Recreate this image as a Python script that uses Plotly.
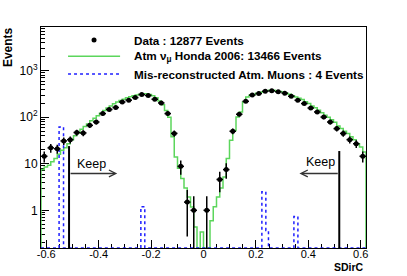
import numpy as np
import plotly.graph_objects as go

X_MIN, X_MAX = -0.62, 0.62
Y_LOG_MIN, Y_LOG_MAX = -0.81, 3.94
FLOOR = 10 ** Y_LOG_MIN

# data histogram, 50 bins over [X_MIN, X_MAX]
data_counts = [
    14.5, 22, 21, 31, 33, 47, 46, 67, 79, 120,
    147, 162, 213, 233, 265, 307, 294, 244, 203, 120,
    45, 8.8, 1.5, 1, 0, 1, 0, 4.6, 7.5, 50,
    116, 220, 300, 323, 363, 370, 352, 330, 283, 232,
    197, 158, 130, 101, 79, 57, 45, 33, 27, 14.5,
]

# atm. nu_mu MC, 100 bins over [X_MIN, X_MAX]
mc_counts = [
    7.5, 8.5, 9.3, 11, 13, 16, 19.5, 22, 27, 33,
    40, 46, 55, 63, 72, 84, 95, 108, 122, 140,
    158, 175, 195, 212, 228, 245, 262, 276, 290, 300,
    312, 320, 322, 310, 290, 262, 225, 185, 140, 100,
    38, 14, 8, 4.8, 3, 1.93, 1.18, 0.44, 0, 0.34,
    0, 0, 0.6, 1.2, 1.93, 3, 5.2, 13, 32, 52,
    101, 130, 213, 274, 297, 310, 330, 345, 355, 370,
    380, 380, 372, 360, 350, 330, 313, 290, 274, 255,
    240, 215, 197, 175, 160, 141, 125, 110, 100, 88,
    78, 65, 57, 50, 45, 38, 33, 27, 23, 18,
]

# mis-reconstructed muons (irregular bins)
mu_lo = [-0.551, -0.239, 0.2227, 0.2379, 0.3449]
mu_hi = [-0.534, -0.224, 0.2379, 0.2479, 0.3602]
mu_val = [62, 1.2, 2.5, 0.37, 0.74]

cut_x = [-0.513, 0.518]
cut_top = [24, 18.8]
arrow_tip = [-0.329, 0.366]
arrow_y = 6.2
keep_x = [-0.428, 0.447]
keep_y = [10.0, 10.7]

x_ticks = [-0.6, -0.4, -0.2, 0, 0.2, 0.4, 0.6]
x_ticktext = ["-0.6", "-0.4", "-0.2", "0", "0.2", "0.4", "0.6"]
y_ticks = [1, 10, 100, 1000]
y_ticktext = ["1", "10", "10<sup>2</sup>", "10<sup>3</sup>"]
y_minor = [m * 10 ** d for d in range(-1, 4) for m in range(2, 10)]

legend_labels = [
    "Data : 12877 Events",
    "Atm ν<sub>μ</sub> Honda 2006: 13466 Events",
    "Mis-reconstructed Atm. Muons : 4 Events",
]

FONT = "Liberation Sans, Arial, Helvetica, sans-serif"
GREEN = "#5cd65c"
BLUE = "#1f1fff"

# data points
d_edges = np.linspace(X_MIN, X_MAX, len(data_counts) + 1)
d_centers = 0.5 * (d_edges[:-1] + d_edges[1:])
d_half = 0.5 * (d_edges[1] - d_edges[0])
dx, dy, dplus, dminus = [], [], [], []
for c, n in zip(d_centers, data_counts):
    if n <= 0:
        continue
    err = np.sqrt(n)
    dx.append(c)
    dy.append(n)
    dplus.append(err)
    dminus.append(min(err, n - 1e-3))

# MC step line
m_edges = np.linspace(X_MIN, X_MAX, len(mc_counts) + 1)
mc_x = [m_edges[0]] + list(m_edges[:-1]) + [m_edges[-1]]
mc_y = [FLOOR] + [v if v > 0 else FLOOR for v in mc_counts] + [FLOOR]

# muon step line
mu_x, mu_y = [X_MIN], [FLOOR]
for i, (lo, hi, v) in enumerate(zip(mu_lo, mu_hi, mu_val)):
    mu_x.append(lo)
    mu_y.append(v)
    nxt = mu_lo[i + 1] if i + 1 < len(mu_lo) else None
    if nxt is None or abs(nxt - hi) > 1e-9:
        mu_x.append(hi)
        mu_y.append(FLOOR)
mu_x.append(X_MAX)
mu_y.append(FLOOR)

fig = go.Figure()
fig.add_trace(go.Scatter(x=mc_x, y=mc_y, mode="lines", line=dict(color=GREEN, width=1.5, shape="hv"),
                         showlegend=False, hoverinfo="skip"))
fig.add_trace(go.Scatter(x=mu_x, y=mu_y, mode="lines", line=dict(color=BLUE, width=1.5, shape="hv", dash="dot"),
                         showlegend=False, hoverinfo="skip"))
fig.add_trace(go.Scatter(
    x=dx, y=dy, mode="markers",
    marker=dict(color="black", size=5),
    error_y=dict(type="data", array=dplus, arrayminus=dminus, symmetric=False, color="black", thickness=1.5, width=0),
    error_x=dict(type="constant", value=d_half, color="black", thickness=1.5, width=0),
    showlegend=False,
))

# cut lines
for cx, ct in zip(cut_x, cut_top):
    fig.add_trace(go.Scatter(x=[cx, cx], y=[FLOOR, ct], mode="lines", line=dict(color="black", width=2),
                             showlegend=False, hoverinfo="skip"))

# arrows and Keep labels
for cx, tip, kx, ky in zip(cut_x, arrow_tip, keep_x, keep_y):
    fig.add_annotation(x=tip, y=np.log10(arrow_y), ax=cx, ay=np.log10(arrow_y), xref="x", yref="y",
                       axref="x", ayref="y", text="", showarrow=True, arrowhead=5, arrowsize=0.9,
                       arrowwidth=1.5, arrowcolor="#333333")
    fig.add_annotation(x=kx, y=np.log10(ky), xref="x", yref="y", text="Keep", showarrow=False,
                       font=dict(family=FONT, size=12.5, color="black"))

# legend drawn by hand (ROOT TLegend look)
leg_x0, leg_x1, leg_tx = 0.0832, 0.2433, 0.2803
leg_y = [0.941, 0.8673, 0.787]
fig.add_shape(type="circle", xref="paper", yref="paper", xsizemode="pixel", ysizemode="pixel",
              xanchor=(leg_x0 + leg_x1) / 2, yanchor=leg_y[0], x0=-2.5, x1=2.5, y0=-2.5, y1=2.5,
              fillcolor="black", line=dict(color="black", width=0))
fig.add_shape(type="line", xref="paper", yref="paper", x0=leg_x0, x1=leg_x1, y0=leg_y[1], y1=leg_y[1],
              line=dict(color=GREEN, width=1.5))
fig.add_shape(type="line", xref="paper", yref="paper", x0=leg_x0, x1=leg_x1, y0=leg_y[2], y1=leg_y[2],
              line=dict(color=BLUE, width=1.5, dash="dot"))
for ly, lab in zip(leg_y, legend_labels):
    fig.add_annotation(x=leg_tx, y=ly, xref="paper", yref="paper", text=f"<b>{lab}</b>", showarrow=False,
                       xanchor="left", yanchor="middle", font=dict(family=FONT, size=11.7, color="black"))

# axis titles, ROOT style (top / right aligned)
fig.add_annotation(x=0, y=0.909, xref="paper", yref="paper", text="<b>Events</b>", textangle=-90,
                   showarrow=False, xanchor="center", yanchor="middle", xshift=-33,
                   font=dict(family=FONT, size=12, color="black"))
fig.add_annotation(x=1, y=0, xref="paper", yref="paper", text="<b>SDirC</b>", showarrow=False,
                   xanchor="right", yanchor="middle", yshift=-19, font=dict(family=FONT, size=10.5, color="black"))

fig.update_xaxes(
    range=[X_MIN, X_MAX], showgrid=False, zeroline=False,
    showline=True, linecolor="black", linewidth=1, mirror=True,
    tickmode="array", tickvals=x_ticks, ticktext=x_ticktext,
    ticks="inside", ticklen=8, tickcolor="black", ticklabelstandoff=-4,
    minor=dict(ticks="inside", ticklen=4, dtick=0.05, tick0=0, tickcolor="black"),
    tickfont=dict(family=FONT, size=11, color="black"), layer="below traces",
)
fig.update_yaxes(
    type="log", range=[Y_LOG_MIN, Y_LOG_MAX], showgrid=False, zeroline=False,
    showline=True, linecolor="black", linewidth=1, mirror=True,
    tickmode="array", tickvals=y_ticks, ticktext=y_ticktext,
    ticks="inside", ticklen=8, tickcolor="black",
    minor=dict(ticks="inside", ticklen=4, tickmode="array", tickvals=y_minor, tickcolor="black"),
    tickfont=dict(family=FONT, size=12, color="black"), layer="below traces",
)
fig.update_layout(
    width=407, height=276,
    margin=dict(l=41, r=41, t=27, b=28),
    plot_bgcolor="white", paper_bgcolor="white",
    showlegend=False,
)

# the page body has a default 8px margin; drop it so the figure sits at the window origin
fig.write_html("out.html", config={"displayModeBar": False},
               post_script="document.body.style.margin='0';")
